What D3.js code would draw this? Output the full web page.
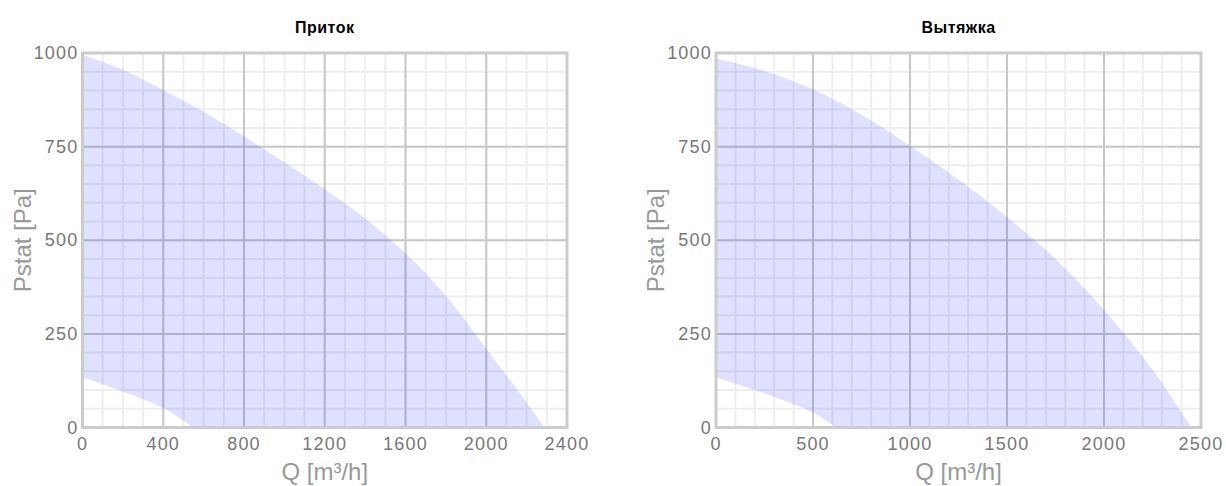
<!DOCTYPE html>
<html>
<head>
<meta charset="utf-8">
<script src="https://cdn.jsdelivr.net/npm/d3@7"></script>
<style>
  body { margin: 0; background: #fff; }
  text { font-family: "Liberation Sans", Arial, sans-serif; }
</style>
</head>
<body>
<div id="chart"></div>
<script>
// Приток (supply) – max curve and min curve
var supplyQ = [0, 200, 400, 600, 800, 1000, 1200, 1400, 1600, 1800, 2000, 2150, 2290];
var supplyP = [995, 955, 901, 843, 778, 708, 636, 558, 465, 352, 210, 103, 0];
var supplyMinQ = [0, 200, 400, 550];
var supplyMinP = [135, 96, 52, 0];

// Вытяжка (exhaust)
var exhaustQ = [0, 250, 500, 750, 1000, 1250, 1500, 1750, 2000, 2250, 2450];
var exhaustP = [986, 952, 903, 835, 752, 662, 562, 450, 314, 155, 0];
var exhaustMinQ = [0, 200, 400, 500, 620];
var exhaustMinP = [135, 100, 62, 40, 0];

var titles = ["Приток", "Вытяжка"];
var supplyTicks = [0, 400, 800, 1200, 1600, 2000, 2400];
var exhaustTicks = [0, 500, 1000, 1500, 2000, 2500];
var pTicks = [0, 250, 500, 750, 1000];

var width = 1226,
  height = 486,
  plotTop = 53,
  plotBottom = 427.5;

var svg = d3.select("#chart").append("svg")
  .attr("width", width)
  .attr("height", height);

function zip(qs, ps) {
  return qs.map(function(q, i){ return [q, ps[i]]; });
}

function drawPanel(opts) {
  var x = d3.scaleLinear().domain([0, opts.xMax]).range([opts.left, opts.right]),
    y = d3.scaleLinear().domain([0, 1000]).range([plotBottom, plotTop]);
  var g = svg.append("g");

  // minor grid
  var minorX = d3.range(0, opts.xMax + 1, opts.minor);
  var minorY = d3.range(0, 1001, 50);
  g.selectAll(".mx").data(minorX).enter().append("line")
    .attr("x1", function(d){ return x(d); }).attr("x2", function(d){ return x(d); })
    .attr("y1", plotTop).attr("y2", plotBottom)
    .attr("stroke", "#eeeeee").attr("stroke-width", 2);
  g.selectAll(".my").data(minorY).enter().append("line")
    .attr("x1", opts.left).attr("x2", opts.right)
    .attr("y1", function(d){ return y(d); }).attr("y2", function(d){ return y(d); })
    .attr("stroke", "#eeeeee").attr("stroke-width", 2);

  // major grid
  g.selectAll(".gx").data(opts.ticks).enter().append("line")
    .attr("x1", function(d){ return x(d); }).attr("x2", function(d){ return x(d); })
    .attr("y1", plotTop).attr("y2", plotBottom)
    .attr("stroke", "#c8c8c8").attr("stroke-width", 2);
  g.selectAll(".gy").data(pTicks).enter().append("line")
    .attr("x1", opts.left).attr("x2", opts.right)
    .attr("y1", function(d){ return y(d); }).attr("y2", function(d){ return y(d); })
    .attr("stroke", "#c8c8c8").attr("stroke-width", 2);

  // working area between the two curves
  var line = d3.line()
    .x(function(d){ return x(d[0]); })
    .y(function(d){ return y(d[1]); })
    .curve(d3.curveCatmullRom);
  var upper = zip(opts.q, opts.p),
    lower = zip(opts.minQ, opts.minP).reverse();
  var path = line(upper) + "L" + line(lower).slice(1) + "Z";
  g.append("path")
    .attr("d", path)
    .attr("fill", "rgb(0,0,255)")
    .attr("fill-opacity", 0.12);

  // border
  g.append("rect")
    .attr("x", opts.left).attr("y", plotTop)
    .attr("width", opts.right - opts.left).attr("height", plotBottom - plotTop)
    .attr("fill", "none").attr("stroke", "#cccccc").attr("stroke-width", 3);

  // tick labels
  g.selectAll(".tx").data(opts.ticks).enter().append("text")
    .attr("x", function(d){ return x(d); })
    .attr("y", 450)
    .attr("text-anchor", "middle")
    .attr("font-size", 18).attr("letter-spacing", 1.2)
    .attr("fill", "#777")
    .text(function(d){ return d; });
  g.selectAll(".ty").data(pTicks).enter().append("text")
    .attr("x", opts.left - 4)
    .attr("y", function(d){ return y(d) + 6; })
    .attr("text-anchor", "end")
    .attr("font-size", 18).attr("letter-spacing", 1.2)
    .attr("fill", "#777")
    .text(function(d){ return d; });

  // titles
  var cx = (opts.left + opts.right) / 2;
  g.append("text")
    .attr("x", cx).attr("y", 33)
    .attr("text-anchor", "middle")
    .attr("font-size", 16).attr("font-weight", "bold").attr("letter-spacing", 0.5)
    .attr("fill", "#000")
    .text(opts.title);
  g.append("text")
    .attr("x", cx).attr("y", 480)
    .attr("text-anchor", "middle")
    .attr("font-size", 24)
    .attr("fill", "#999")
    .text("Q [m³/h]");
  g.append("text")
    .attr("transform", "translate(" + (opts.left - 52) + "," + ((plotTop + plotBottom) / 2) + ") rotate(-90)")
    .attr("text-anchor", "middle")
    .attr("font-size", 24)
    .attr("fill", "#999")
    .text("Pstat [Pa]");
}

drawPanel({
  title: titles[0], left: 82.5, right: 567, xMax: 2400, minor: 100,
  ticks: supplyTicks, q: supplyQ, p: supplyP, minQ: supplyMinQ, minP: supplyMinP
});
drawPanel({
  title: titles[1], left: 716, right: 1201, xMax: 2500, minor: 100,
  ticks: exhaustTicks, q: exhaustQ, p: exhaustP, minQ: exhaustMinQ, minP: exhaustMinP
});
</script>
</body>
</html>
